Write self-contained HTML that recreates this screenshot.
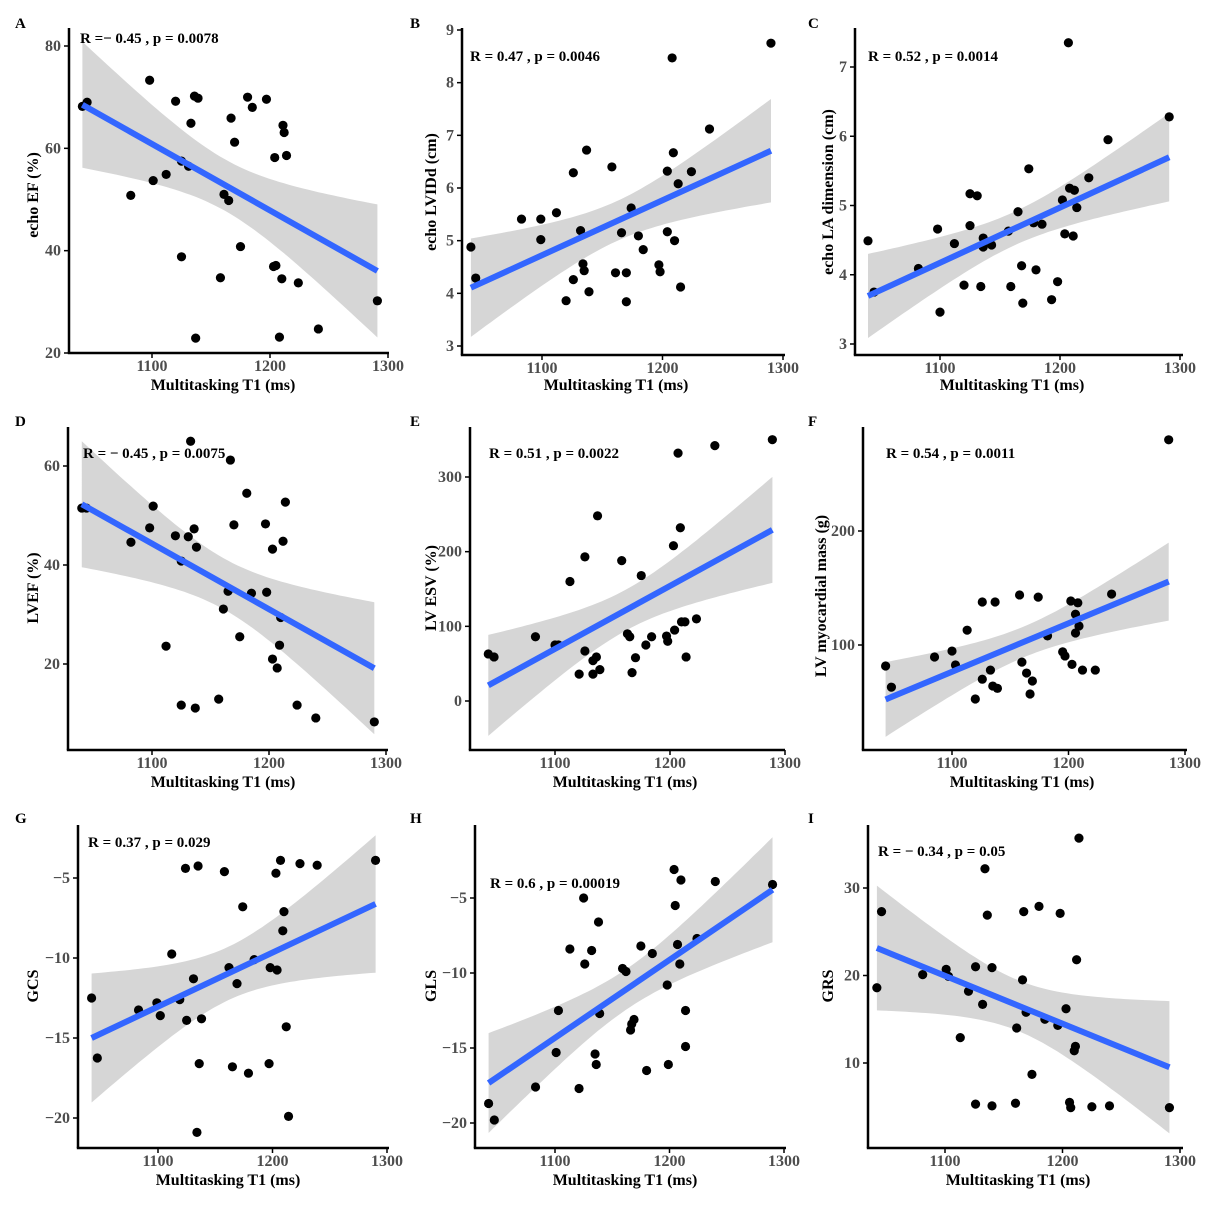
<!DOCTYPE html>
<html><head><meta charset="utf-8"><style>
html,body{margin:0;padding:0;background:#fff;}
svg{display:block;font-family:"Liberation Serif",serif;}
.tick{fill:#4d4d4d;font-size:16px;font-weight:bold;}
.ttl{fill:#000;font-size:16px;font-weight:bold;}
.stat{fill:#000;font-size:15px;font-weight:bold;}
.lett{fill:#000;font-size:15px;font-weight:bold;}
</style></head><body>
<svg id="fig" width="1212" height="1216" viewBox="0 0 1212 1216" xmlns="http://www.w3.org/2000/svg"></svg>
<script>
// ---- data (ms, value) per panel ----
const xA=[1041,1045,1098,1082,1101,1112,1120,1125,1125,1131,1133,1136,1139,1137,1158,1161,1165,1167,1170,1175,1181,1185,1197,1203,1204,1205,1208,1210,1211,1212,1214,1224,1241,1291];
const yA=[68.2,69,73.3,50.8,53.7,54.9,69.2,57.5,38.8,56.5,64.9,70.2,69.8,22.9,34.7,51,49.8,65.9,61.2,40.8,70,68,69.6,36.9,58.2,37.1,23.1,34.5,64.5,63.1,58.6,33.7,24.7,30.2];
const xB=[1041,1045,1083,1099,1099,1112,1120,1126,1126,1132,1134,1135,1137,1139,1158,1161,1166,1170,1170,1174,1180,1184,1197,1198,1204,1204,1208,1209,1210,1213,1215,1224,1239,1290];
const yB=[4.88,4.29,5.41,5.02,5.41,5.53,3.86,6.29,4.26,5.19,4.56,4.43,6.72,4.03,6.4,4.39,5.15,4.39,3.84,5.62,5.09,4.83,4.54,4.41,5.17,6.32,8.47,6.67,5.0,6.08,4.12,6.31,7.12,8.75];
const xC=[1040,1045,1082,1098,1100,1112,1120,1125,1125,1131,1134,1136,1136,1143,1157,1159,1165,1168,1169,1174,1178,1180,1185,1193,1198,1202,1204,1208,1211,1212,1214,1224,1207,1240,1291];
const yC=[4.49,3.75,4.09,4.66,3.46,4.45,3.85,5.17,4.71,5.14,3.83,4.53,4.4,4.43,4.63,3.83,4.91,4.13,3.59,5.53,4.75,4.07,4.73,3.64,3.9,5.08,4.59,5.25,4.56,5.22,4.97,5.4,7.35,5.95,6.28];
const xD=[1040,1044,1082,1098,1101,1112,1120,1125,1125,1131,1133,1136,1138,1137,1157,1161,1165,1167,1170,1175,1181,1185,1197,1198,1203,1203,1207,1209,1210,1212,1214,1224,1240,1290];
const yD=[51.5,51.5,44.6,47.5,51.9,23.6,45.9,40.8,11.7,45.7,65,47.3,43.6,11.1,12.9,31.1,34.7,61.2,48.1,25.5,54.5,34.3,48.3,34.5,21,43.2,19.2,23.8,29.4,44.8,52.7,11.7,9.1,8.3];
const xE=[1042,1047,1083,1100,1103,1113,1121,1126,1126,1133,1136,1137,1139,1133,1158,1163,1165,1167,1170,1175,1179,1184,1197,1198,1203,1204,1207,1209,1210,1213,1214,1223,1239,1289];
const yE=[63,59,86,75,75,160,36,193,67,54,59,248,42,36,188,90,86,38,58,168,75,86,87,80,208,95,332,232,106,106,59,110,342,350];
const xF=[1043,1048,1085,1100,1103,1113,1120,1126,1126,1133,1135,1137,1139,1158,1160,1164,1167,1169,1174,1182,1195,1197,1202,1203,1206,1206,1208,1209,1212,1223,1237,1286];
const yF=[81.6,63,89.5,94.7,82.5,113,52.6,137.7,70,78,64,137.7,62,143.9,85,75.4,57,68.4,142,108,94,90.4,138.6,83,127,110.5,137,116.7,78,78,144.7,280];
const xG=[1042,1047,1083,1099,1102,1112,1119,1124,1125,1131,1134,1136,1135,1138,1158,1162,1165,1169,1174,1179,1184,1197,1198,1203,1204,1207,1209,1210,1212,1214,1224,1239,1290];
const yG=[-12.5,-16.25,-13.25,-12.8,-13.6,-9.75,-12.6,-4.4,-13.9,-11.3,-20.9,-16.6,-4.25,-13.8,-4.6,-10.6,-16.8,-11.6,-6.8,-17.2,-10.1,-16.6,-10.6,-4.7,-10.75,-3.9,-8.3,-7.1,-14.3,-19.9,-4.1,-4.2,-3.9];
const xH=[1042,1047,1083,1101,1103,1113,1121,1125,1126,1132,1135,1136,1138,1139,1159,1162,1166,1167,1169,1175,1180,1185,1198,1199,1204,1205,1207,1209,1210,1214,1214,1224,1240,1290];
const yH=[-18.7,-19.8,-17.6,-15.3,-12.5,-8.4,-17.7,-5,-9.4,-8.5,-15.4,-16.1,-6.6,-12.7,-9.7,-9.9,-13.8,-13.4,-13.1,-8.2,-16.5,-8.7,-10.8,-16.1,-3.1,-5.5,-8.1,-9.4,-3.8,-12.5,-14.9,-7.7,-3.9,-4.1];
const xI=[1042,1046,1081,1101,1103,1113,1120,1126,1126,1132,1134,1136,1140,1140,1160,1161,1166,1167,1169,1174,1180,1185,1196,1198,1203,1206,1207,1210,1211,1212,1214,1225,1240,1291];
const yI=[18.6,27.3,20.1,20.7,19.9,12.9,18.2,5.3,21,16.7,32.2,26.9,20.9,5.1,5.4,14,19.5,27.3,15.8,8.7,27.9,15,14.3,27.1,16.2,5.5,4.9,11.4,11.9,21.8,35.7,5,5.1,4.9];
const xTicks=[1100,1200,1300];
const yTicksA=[20,40,60,80], yTicksB=[3,4,5,6,7,8,9], yTicksC=[3,4,5,6,7];
const yTicksD=[20,40,60], yTicksE=[0,100,200,300], yTicksF=[100,200];
const yTicksG=[-20,-15,-10,-5], yTicksH=[-20,-15,-10,-5], yTicksI=[10,20,30];
const statA="R =− 0.45 , p = 0.0078", statB="R = 0.47 , p = 0.0046", statC="R = 0.52 , p = 0.0014";
const statD="R = − 0.45 , p = 0.0075", statE="R = 0.51 , p = 0.0022", statF="R = 0.54 , p = 0.0011";
const statG="R  = 0.37 , p = 0.029", statH="R = 0.6 , p = 0.00019", statI="R = − 0.34 , p = 0.05";

// ---- layout (pixels) ----
const panels=[
 {id:'a',L:'A',x:xA,y:yA,yt:yTicksA,st:statA,yl:'echo EF (%)',ax:69,ay:353,top:28,right:389,p1:152,p3:388,ylo:353,yhi:46,lx:15,ly:28,sx:80,sy:43,tx:223,ty:390,yx:38,yy:195},
 {id:'b',L:'B',x:xB,y:yB,yt:yTicksB,st:statB,yl:'echo LVIDd (cm)',ax:462,ay:355,top:28,right:785,p1:542,p3:783,ylo:346,yhi:30,lx:410,ly:28,sx:470,sy:61,tx:616,ty:390,yx:436,yy:192},
 {id:'c',L:'C',x:xC,y:yC,yt:yTicksC,st:statC,yl:'echo LA dimension (cm)',ax:855,ay:355,top:28,right:1183,p1:940,p3:1180,ylo:344,yhi:67,lx:808,ly:28,sx:868,sy:61,tx:1012,ty:390,yx:833,yy:192},
 {id:'d',L:'D',x:xD,y:yD,yt:yTicksD,st:statD,yl:'LVEF (%)',ax:68,ay:750,top:427,right:388,p1:152,p3:386,ylo:664,yhi:466,lx:15,ly:426,sx:83,sy:458,tx:223,ty:787,yx:38,yy:588},
 {id:'e',L:'E',x:xE,y:yE,yt:yTicksE,st:statE,yl:'LV ESV (%)',ax:470,ay:750,top:427,right:785,p1:555,p3:785,ylo:701,yhi:477,lx:410,ly:426,sx:489,sy:458,tx:625,ty:787,yx:436,yy:588},
 {id:'f',L:'F',x:xF,y:yF,yt:yTicksF,st:statF,yl:'LV myocardial mass (g)',ax:863,ay:750,top:427,right:1187,p1:952,p3:1185,ylo:645,yhi:531,lx:808,ly:426,sx:886,sy:458,tx:1022,ty:787,yx:826,yy:596},
 {id:'g',L:'G',x:xG,y:yG,yt:yTicksG,st:statG,yl:'GCS',ax:78,ay:1148,top:825,right:389,p1:158,p3:387,ylo:1118,yhi:878,lx:15,ly:823,sx:88,sy:847,tx:228,ty:1185,yx:38,yy:986},
 {id:'h',L:'H',x:xH,y:yH,yt:yTicksH,st:statH,yl:'GLS',ax:475,ay:1148,top:825,right:786,p1:555,p3:784,ylo:1123,yhi:898,lx:410,ly:823,sx:490,sy:888,tx:625,ty:1185,yx:436,yy:986},
 {id:'i',L:'I',x:xI,y:yI,yt:yTicksI,st:statI,yl:'GRS',ax:868,ay:1148,top:825,right:1183,p1:945,p3:1180,ylo:1063,yhi:888,lx:808,ly:823,sx:878,sy:856,tx:1018,ty:1185,yx:833,yy:986}
];
const NS='http://www.w3.org/2000/svg';
const svg=document.getElementById('fig');
function mk(tag,attrs,parent){const e=document.createElementNS(NS,tag);for(const k in attrs)e.setAttribute(k,attrs[k]);(parent||svg).appendChild(e);return e;}
function tcrit(df){return df>=60?2.0:df>=40?2.021:df>=30?2.042:2.06;}

panels.forEach(P=>{
  const g=mk('g',{});
  
  
  const t0=P.yt[0], t1=P.yt[P.yt.length-1];
  const sx=v=>P.p1+(v-1100)*(P.p3-P.p1)/200;
  const sy=v=>P.ylo+(v-t0)*(P.yhi-P.ylo)/(t1-t0);
  const n=P.x.length;let mx=0,my=0;for(let i=0;i<n;i++){mx+=P.x[i];my+=P.y[i];}mx/=n;my/=n;
  let sxx=0,sxy=0;for(let i=0;i<n;i++){sxx+=(P.x[i]-mx)**2;sxy+=(P.x[i]-mx)*(P.y[i]-my);}
  const b=sxy/sxx,a=my-b*mx;let sse=0;for(let i=0;i<n;i++)sse+=(P.y[i]-a-b*P.x[i])**2;
  const s=Math.sqrt(sse/(n-2)),tc=tcrit(n-2);
  const x0=Math.min(...P.x),x1=Math.max(...P.x);
  const up=[],lo=[];
  for(let k=0;k<=60;k++){const xv=x0+(x1-x0)*k/60,f=a+b*xv,se=s*Math.sqrt(1/n+(xv-mx)**2/sxx);
    up.push(sx(xv).toFixed(1)+','+sy(f+tc*se).toFixed(1));lo.unshift(sx(xv).toFixed(1)+','+sy(f-tc*se).toFixed(1));}
  const band=mk('polygon',{points:up.concat(lo).join(' '),fill:'#d6d6d6'},g);
  
  
  P.x.forEach((xv,i)=>{
    const c=mk('circle',{cx:sx(xv),cy:sy(P.y[i]),r:4.6,fill:'#000'},g);
    
    
  });
  const ln=mk('line',{x1:sx(x0),y1:sy(a+b*x0),x2:sx(x1),y2:sy(a+b*x1),stroke:'#3366ff','stroke-width':6},g);
  
  
  const ya=mk('line',{x1:P.ax,y1:P.top,x2:P.ax,y2:P.ay,stroke:'#000','stroke-width':2.5},g);
  
  
  const xa=mk('line',{x1:P.ax-1.2,y1:P.ay,x2:P.right,y2:P.ay,stroke:'#000','stroke-width':2.5},g);
  
  
  xTicks.forEach(v=>{
    mk('line',{x1:sx(v),y1:P.ay,x2:sx(v),y2:P.ay+5,stroke:'#000','stroke-width':1.5},g);
    const t=mk('text',{x:sx(v),y:P.ay+18,'text-anchor':'middle',class:'tick'},g);t.textContent=v;
    
    
  });
  P.yt.forEach(v=>{
    mk('line',{x1:P.ax-5,y1:sy(v),x2:P.ax,y2:sy(v),stroke:'#000','stroke-width':1.5},g);
    const t=mk('text',{x:P.ax-8,y:sy(v)+5,'text-anchor':'end',class:'tick'},g);t.textContent=String(v).replace('-','−');
    
    
  });
  const xt=mk('text',{x:P.tx,y:P.ty,'text-anchor':'middle',class:'ttl'},g);xt.textContent='Multitasking T1 (ms)';
  
  
  const yt=mk('text',{x:P.yx,y:P.yy,'text-anchor':'middle',class:'ttl',transform:'rotate(-90 '+P.yx+' '+P.yy+')'},g);yt.textContent=P.yl;
  
  
  const st=mk('text',{x:P.sx,y:P.sy,class:'stat'},g);st.textContent=P.st;
  
  
  const lt=mk('text',{x:P.lx,y:P.ly,class:'lett'},g);lt.textContent=P.L;
  
  
});
</script>
</body></html>
